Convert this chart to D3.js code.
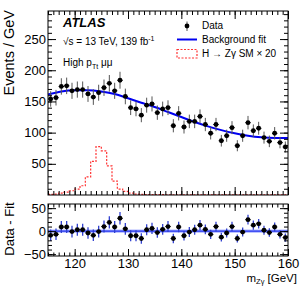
<!DOCTYPE html>
<html>
<head>
<meta charset="utf-8">
<script src="https://d3js.org/d3.v7.min.js"></script>
<style>
body { margin: 0; background: #fff; }
text { font-family: "Liberation Sans", Arial, sans-serif; fill: #000; }
</style>
</head>
<body>
<div id="svg"></div>
<script>
// bin centres of the data (1 GeV bins)
var massBins = [115.5,116.5,117.5,118.5,119.5,120.5,121.5,122.5,123.5,124.5,
    125.5,126.5,127.5,128.5,129.5,130.5,131.5,132.5,133.5,134.5,
    135.5,136.5,137.5,138.5,139.5,140.5,141.5,142.5,143.5,144.5,
    145.5,146.5,147.5,148.5,149.5,150.5,151.5,152.5,153.5,154.5,
    155.5,156.5,157.5,158.5,159.5];
var events = [154,156,174,175,167,169,169,162,157,164,
    172,179,167,184,158,140,138,128,144,146,
    132,138,140,111,131,109,118,118,126,113,
    99,113,87,95,108,79,95,116,103,107,
    92,86,99,84,77];
var residuals = [-9,-7,9,9,-1,3,3,-4,-9,-1,
    10,19,9,28,5,-10,-10,-16,3,6,
    -3,4,10,-16,9,-10,-2,3,13,4,
    -7,10,-13,-4,10,-16,-2,25,13,16,
    2,-3,9,-7,-14];

// background fit curve
var fitMass = [115,117.5,120,122.5,125,127.5,130,132.5,135,137.5,140,142.5,145,147.5,150,152.5,155,157.5,160];
var fitValues = [161,166,168,168,166,162,155,148,141,133,125,117,110,104,99,95,92.5,91.5,91.5];

// signal H -> Z gamma x 20, lower bin edges
var sigEdges = [115,116,117,118,119,120,121,122,123,124,125,126,127,128,129,130,131,132,133,134,
    135,136,137,138,139,140,141,142,143,144,145,146,147,148,149,150,151,152,153,154,155,156,157,158,159,160];
var sigValues = [1,1.5,3,4.7,6.8,9.5,14.8,29,54,77.7,70.8,46.8,22.3,9.5,5.7,3,1.5,1,0.8,0.6,
    0.5,0.5,0.4,0.4,0.4,0.3,0.3,0.3,0.3,0.3,0.3,0.2,0.2,0.2,0.2,0.2,0.2,0.2,0.2,0.2,0.2,0.2,0.2,0.2,0.2,0.2];

var yTicksTop = [50,100,150,200,250];
var yTicksBot = [-50,0,50];
var xTicks = [120,130,140,150,160];

var W = 303, H = 286;
var L = 48, R = 288, T1 = 11, B1 = 195, T2 = 204, B2 = 256;

var svg = d3.select("#svg").append("svg")
    .attr("width", W).attr("height", H);

var x = d3.scaleLinear().domain([115,160]).range([L,R]);
var yTop = d3.scaleLinear().domain([0,295]).range([B1,T1]);
var yBot = d3.scaleLinear().domain([-54,59]).range([B2,T2]);

var minorX = d3.range(115,161,1);
var minorYTop = d3.range(10,295,10);
var minorYBot = d3.range(-50,60,10);

function noDomain(g) { g.select(".domain").remove(); g.selectAll("line").attr("stroke","#000"); }

// clip paths
svg.append("clipPath").attr("id","c1").append("rect")
    .attr("x",L).attr("y",T1).attr("width",R-L).attr("height",B1-T1);
svg.append("clipPath").attr("id","c2").append("rect")
    .attr("x",L).attr("y",T2).attr("width",R-L).attr("height",B2-T2);

// ---------- top panel ----------
var topG = svg.append("g");

// signal histogram
var sigLine = d3.line()
    .x(function(d){ return x(d[0]); })
    .y(function(d){ return yTop(d[1]); })
    .curve(d3.curveStepAfter);
var sigPts = sigEdges.map(function(e,i){ return [e, sigValues[i]]; });
topG.append("path")
    .attr("clip-path","url(#c1)")
    .attr("d", sigLine(sigPts))
    .attr("fill","none").attr("stroke","#f33")
    .attr("stroke-width",1.2).attr("stroke-dasharray","2,1.5");

// background fit
var fitLine = d3.line()
    .x(function(d,i){ return x(fitMass[i]); })
    .y(function(d){ return yTop(d); })
    .curve(d3.curveMonotoneX);
topG.append("path")
    .attr("d", fitLine(fitValues))
    .attr("fill","none").attr("stroke","#0000f0").attr("stroke-width",2);

// data points
var pts = topG.selectAll(".pt").data(massBins).enter().append("g");
pts.append("line")
    .attr("x1",function(d){ return x(d); }).attr("x2",function(d){ return x(d); })
    .attr("y1",function(d,i){ return yTop(events[i]+Math.sqrt(events[i])); })
    .attr("y2",function(d,i){ return yTop(events[i]-Math.sqrt(events[i])); })
    .attr("stroke","#555").attr("stroke-width",1);
pts.append("line")
    .attr("x1",function(d){ return x(d-0.5); }).attr("x2",function(d){ return x(d+0.5); })
    .attr("y1",function(d,i){ return yTop(events[i]); })
    .attr("y2",function(d,i){ return yTop(events[i]); })
    .attr("stroke","#000").attr("stroke-width",1);
pts.append("circle")
    .attr("cx",function(d){ return x(d); })
    .attr("cy",function(d,i){ return yTop(events[i]); })
    .attr("r",2.4).attr("fill","#000");

// axes top panel
topG.append("g").attr("transform","translate(0,"+B1+")")
    .call(d3.axisBottom(x).tickValues(minorX).tickSize(-4).tickFormat("")).call(noDomain);
topG.append("g").attr("transform","translate(0,"+B1+")")
    .call(d3.axisBottom(x).tickValues(xTicks).tickSize(-8).tickFormat("")).call(noDomain);
topG.append("g").attr("transform","translate(0,"+T1+")")
    .call(d3.axisTop(x).tickValues(minorX).tickSize(-4).tickFormat("")).call(noDomain);
topG.append("g").attr("transform","translate(0,"+T1+")")
    .call(d3.axisTop(x).tickValues(xTicks).tickSize(-8).tickFormat("")).call(noDomain);
topG.append("g").attr("transform","translate("+L+",0)")
    .call(d3.axisLeft(yTop).tickValues(minorYTop).tickSize(-4).tickFormat("")).call(noDomain);
topG.append("g").attr("transform","translate("+L+",0)")
    .call(d3.axisLeft(yTop).tickValues(yTicksTop).tickSize(-8).tickPadding(2))
    .call(noDomain)
    .selectAll("text").attr("font-size",13).attr("font-family","Liberation Sans, Arial, sans-serif");
topG.append("g").attr("transform","translate("+R+",0)")
    .call(d3.axisRight(yTop).tickValues(minorYTop).tickSize(-4).tickFormat("")).call(noDomain);
topG.append("g").attr("transform","translate("+R+",0)")
    .call(d3.axisRight(yTop).tickValues(yTicksTop).tickSize(-8).tickFormat("")).call(noDomain);
topG.append("rect").attr("x",L).attr("y",T1).attr("width",R-L).attr("height",B1-T1)
    .attr("fill","none").attr("stroke","#000").attr("stroke-width",1);

// ---------- bottom panel ----------
var botG = svg.append("g");
botG.append("rect").attr("x",L).attr("y",yBot(3.5)).attr("width",R-L)
    .attr("height",yBot(-3.5)-yBot(3.5)).attr("fill","#aab4ff");
botG.append("line").attr("x1",L).attr("x2",R).attr("y1",yBot(0)).attr("y2",yBot(0))
    .attr("stroke","#2030f0").attr("stroke-width",1.3);

var rp = botG.selectAll(".rp").data(massBins).enter().append("g").attr("clip-path","url(#c2)");
rp.append("line")
    .attr("x1",function(d){ return x(d); }).attr("x2",function(d){ return x(d); })
    .attr("y1",function(d,i){ return yBot(residuals[i]+Math.sqrt(events[i])); })
    .attr("y2",function(d,i){ return yBot(residuals[i]-Math.sqrt(events[i])); })
    .attr("stroke","#3040d0").attr("stroke-width",1.3);
rp.append("line")
    .attr("x1",function(d){ return x(d-0.5); }).attr("x2",function(d){ return x(d+0.5); })
    .attr("y1",function(d,i){ return yBot(residuals[i]); })
    .attr("y2",function(d,i){ return yBot(residuals[i]); })
    .attr("stroke","#000").attr("stroke-width",1);
rp.append("circle")
    .attr("cx",function(d){ return x(d); })
    .attr("cy",function(d,i){ return yBot(residuals[i]); })
    .attr("r",2.4).attr("fill","#000");

botG.append("g").attr("transform","translate(0,"+B2+")")
    .call(d3.axisBottom(x).tickValues(minorX).tickSize(-3.5).tickFormat("")).call(noDomain);
botG.append("g").attr("transform","translate(0,"+B2+")")
    .call(d3.axisBottom(x).tickValues(xTicks).tickSize(-7).tickPadding(3))
    .call(noDomain)
    .selectAll("text").attr("font-size",13).attr("font-family","Liberation Sans, Arial, sans-serif");
botG.append("g").attr("transform","translate(0,"+T2+")")
    .call(d3.axisTop(x).tickValues(minorX).tickSize(-3.5).tickFormat("")).call(noDomain);
botG.append("g").attr("transform","translate(0,"+T2+")")
    .call(d3.axisTop(x).tickValues(xTicks).tickSize(-7).tickFormat("")).call(noDomain);
botG.append("g").attr("transform","translate("+L+",0)")
    .call(d3.axisLeft(yBot).tickValues(minorYBot).tickSize(-4).tickFormat("")).call(noDomain);
botG.append("g").attr("transform","translate("+L+",0)")
    .call(d3.axisLeft(yBot).tickValues(yTicksBot).tickSize(-8).tickPadding(2)
        .tickFormat(function(d){ return d < 0 ? "\u2212" + (-d) : d; }))
    .call(noDomain)
    .selectAll("text").attr("font-size",13).attr("font-family","Liberation Sans, Arial, sans-serif");
botG.append("g").attr("transform","translate("+R+",0)")
    .call(d3.axisRight(yBot).tickValues(minorYBot).tickSize(-4).tickFormat("")).call(noDomain);
botG.append("g").attr("transform","translate("+R+",0)")
    .call(d3.axisRight(yBot).tickValues(yTicksBot).tickSize(-8).tickFormat("")).call(noDomain);
botG.append("rect").attr("x",L).attr("y",T2).attr("width",R-L).attr("height",B2-T2)
    .attr("fill","none").attr("stroke","#000").attr("stroke-width",1);

// ---------- labels ----------
svg.append("text").attr("transform","translate(14,10) rotate(-90)")
    .attr("text-anchor","end").attr("font-size",14.5).text("Events / GeV");
svg.append("text").attr("transform","translate(14,229) rotate(-90)")
    .attr("text-anchor","middle").attr("font-size",13).text("Data - Fit");

var xt = svg.append("text").attr("x",297).attr("y",281.5).attr("text-anchor","end").attr("font-size",11.5);
xt.append("tspan").text("m");
xt.append("tspan").attr("font-size",7.5).attr("dy",2).text("Z\u03b3");
xt.append("tspan").attr("dy",-2).text(" [GeV]");

svg.append("text").attr("x",63).attr("y",27).attr("font-size",13)
    .attr("font-weight","bold").attr("font-style","italic").text("ATLAS");
var lumi = svg.append("text").attr("x",63).attr("y",45).attr("font-size",10);
lumi.append("tspan").text("\u221as = 13 TeV, 139 fb");
lumi.append("tspan").attr("font-size",7).attr("dy",-4).text("-1");
var hp = svg.append("text").attr("x",63).attr("y",66).attr("font-size",10);
hp.append("tspan").text("High p");
hp.append("tspan").attr("font-size",7).attr("dy",3).text("Tt");
hp.append("tspan").attr("dy",-3).text(" \u03bc\u03bc");

// legend
var lg = svg.append("g");
lg.append("line").attr("x1",187).attr("x2",187).attr("y1",21.5).attr("y2",31).attr("stroke","#555");
lg.append("circle").attr("cx",187).attr("cy",26).attr("r",2.4).attr("fill","#000");
lg.append("text").attr("x",202).attr("y",29).attr("font-size",10).text("Data");
lg.append("line").attr("x1",177).attr("x2",197).attr("y1",39.5).attr("y2",39.5)
    .attr("stroke","#0000f0").attr("stroke-width",2);
lg.append("text").attr("x",202).attr("y",43).attr("font-size",10).text("Background fit");
lg.append("rect").attr("x",177).attr("y",49.5).attr("width",20).attr("height",8.5)
    .attr("fill","none").attr("stroke","#f33").attr("stroke-width",1.2).attr("stroke-dasharray","2,1.5");
lg.append("text").attr("x",202).attr("y",57).attr("font-size",10).text("H \u2192 Z\u03b3 SM \u00d7 20");
</script>
</body>
</html>
